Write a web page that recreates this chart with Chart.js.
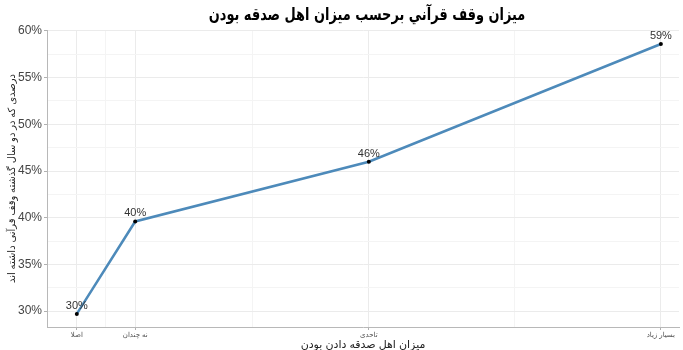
<!DOCTYPE html>
<html>
<head>
<meta charset="utf-8">
<script src="https://cdn.jsdelivr.net/npm/chart.js@4.4.1/dist/chart.umd.min.js"></script>
<style>
  html, body { margin: 0; padding: 0; background: #ffffff; }
  #wrap { width: 683px; height: 350px; }
</style>
</head>
<body>
<div id="wrap"><canvas id="donationChart" width="683" height="350"></canvas></div>
<script>
// Categories of how charitable people are, placed on a numeric x position
const categories = ['اصلا', 'نه چندان', 'تاحدی', 'بسیار زیاد'];
const categoryPos = [0, 1, 5, 10];
// Share (%) who made a Quran endowment in the last two years
const endowmentShare = [29.7, 39.6, 46.0, 58.6];
// Grid positions (major + minor)
const xGrid = [0, 0.5, 1, 3, 5, 7.5, 10];
const yGrid = [30, 32.5, 35, 37.5, 40, 42.5, 45, 47.5, 50, 52.5, 55, 57.5, 60];

const chartTitle = 'میزان وقف قرآني برحسب میزان اهل صدقه بودن';
const xTitle = 'میزان اهل صدقه دادن بودن';
const yTitle = 'درصدی که در دو سال گذشته وقف قرآنی داشته اند';

const FONT = '"Liberation Sans", "DejaVu Sans", sans-serif';

// draws the main title over the plot panel and the % labels above each point
const labelPlugin = {
    id: 'labelPlugin',
    afterDraw(chart) {
        const c = chart.ctx;
        const area = chart.chartArea;
        c.save();
        c.fillStyle = '#000000';
        c.font = 'bold 17px "DejaVu Sans", sans-serif';
        c.textAlign = 'center';
        c.textBaseline = 'middle';
        // DejaVu's Arabic is wide, squeeze it horizontally a bit
        c.translate((area.left + area.right) / 2 + 4, 16);
        c.scale(0.76, 1);
        c.fillText(chartTitle, 0, 0);
        c.restore();

        c.save();
        const meta = chart.getDatasetMeta(0);
        c.fillStyle = '#333333';
        c.font = '11px ' + FONT;
        c.textAlign = 'center';
        c.textBaseline = 'alphabetic';
        meta.data.forEach((pt, i) => {
            c.fillText(Math.round(endowmentShare[i]) + '%', pt.x, pt.y - 5);
        });
        c.restore();
    }
};

const isMajorX = v => categoryPos.includes(v);
const isMajorY = v => v % 5 === 0;

const ctx = document.getElementById('donationChart').getContext('2d');
const donationChart = new Chart(ctx, {
    type: 'line',
    data: {
        datasets: [{
            data: categoryPos.map((x, i) => ({ x: x, y: endowmentShare[i] })),
            borderColor: '#4d8aba',
            borderWidth: 2.5,
            pointBackgroundColor: '#000000',
            pointBorderColor: '#000000',
            pointRadius: 2,
            pointBorderWidth: 0,
            tension: 0,
            fill: false
        }]
    },
    options: {
        responsive: false,
        animation: false,
        layout: { padding: { top: 30, right: 0, left: 0, bottom: 0 } },
        plugins: {
            legend: { display: false },
            tooltip: { enabled: false }
        },
        scales: {
            x: {
                type: 'linear',
                min: -0.51,
                max: 10.31,
                afterBuildTicks: s => { s.ticks = xGrid.map(v => ({ value: v })); },
                afterFit: s => { s.height = 23; },
                ticks: {
                    autoSkip: false,
                    maxRotation: 0,
                    padding: 1,
                    color: '#4d4d4d',
                    font: { family: FONT, size: 7 },
                    callback: v => isMajorX(v) ? categories[categoryPos.indexOf(v)] : ''
                },
                grid: {
                    color: c => isMajorX(c.tick.value) ? '#ebebeb' : '#f4f4f4',
                    tickColor: c => isMajorX(c.tick.value) ? '#b0b0b0' : 'rgba(0,0,0,0)',
                    tickLength: 3
                },
                border: { color: '#b8b8b8', width: 1 },
                title: {
                    display: true,
                    text: xTitle,
                    color: '#222222',
                    font: { family: FONT, size: 11 },
                    padding: { top: 0, bottom: -2 }
                }
            },
            y: {
                min: 28.3,
                max: 60.1,
                afterBuildTicks: s => { s.ticks = yGrid.map(v => ({ value: v })); },
                afterFit: s => { s.width = 47; },
                ticks: {
                    autoSkip: false,
                    padding: 2,
                    color: '#444444',
                    font: { family: FONT, size: 12 },
                    callback: v => isMajorY(v) ? v + '%' : ''
                },
                grid: {
                    color: c => isMajorY(c.tick.value) ? '#ebebeb' : '#f4f4f4',
                    tickColor: c => isMajorY(c.tick.value) ? '#b0b0b0' : 'rgba(0,0,0,0)',
                    tickLength: 3
                },
                border: { color: '#b8b8b8', width: 1 },
                title: {
                    display: true,
                    text: yTitle,
                    color: '#222222',
                    font: { family: FONT, size: 10 },
                    padding: { top: 6, bottom: 0 }
                }
            }
        }
    },
    plugins: [labelPlugin]
});
</script>
</body>
</html>
